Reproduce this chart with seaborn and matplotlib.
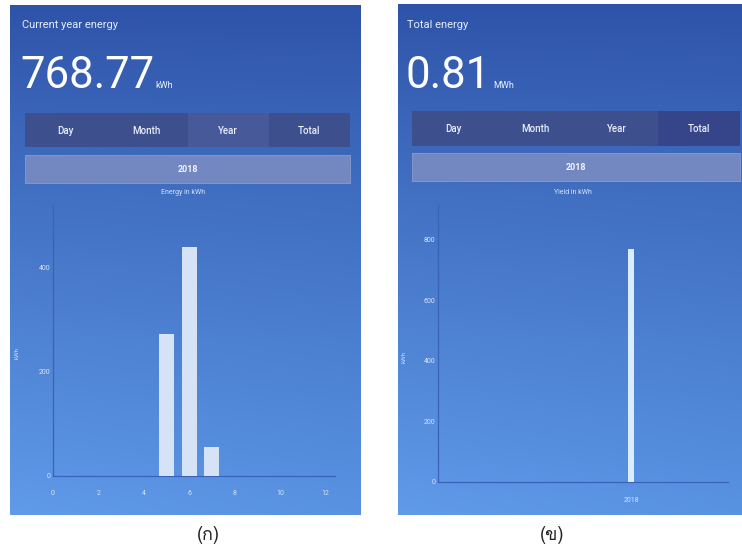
import numpy as np
import matplotlib
matplotlib.use("Agg")
import matplotlib.pyplot as plt
from matplotlib.patches import Rectangle
from matplotlib import font_manager
import seaborn as sns

# ---- data -------------------------------------------------------------
months = [5, 6, 7]
month_energy = [272.45, 439.62, 56.70]          # kWh per month, 2018
month_xticks = [0, 2, 4, 6, 8, 10, 12]
month_yticks = [0, 200, 400]

years = [2018]
year_energy = [768.77]                          # kWh per year
year_xticks = [2018]
year_yticks = [0, 200, 400, 600, 800]

tabs = ["Day", "Month", "Year", "Total"]
headline_left = ("Current year energy", "768.77", "kWh")
headline_right = ("Total energy", "0.81", "MWh")
period_label = "2018"
sub_left = "Energy in kWh"
sub_right = "Yield in kWh"
captions = ["(ก)", "(ข)"]

# ---- fonts ------------------------------------------------------------
sns.set_theme(style="white")
plt.rcParams["font.family"] = ["Roboto", "DejaVu Sans"]


def thai_family():
    try:
        from fontTools.ttLib import TTFont
    except Exception:
        return "DejaVu Sans"
    for f in font_manager.fontManager.ttflist:
        try:
            tt = TTFont(f.fname, fontNumber=0, lazy=True)
            cmap = tt.getBestCmap() or {}
            if 0x0E01 in cmap and 0x0E02 in cmap:
                return f.name
        except Exception:
            continue
    return "DejaVu Sans"


THAI = thai_family()

# ---- figure -----------------------------------------------------------
W, H = 742, 548
fig = plt.figure(figsize=(W / 100, H / 100), dpi=100)
fig.patch.set_facecolor("white")

bg = fig.add_axes([0, 0, 1, 1])
bg.axis("off")


def gradient(nx=60, ny=200):
    top = np.array([0.180, 0.325, 0.660])
    bot = np.array([0.360, 0.590, 0.900])
    t = np.linspace(0, 1, ny)[:, None, None]
    s = np.linspace(0, 1, nx)[None, :, None]
    img = top + (bot - top) * (t ** 0.9)
    img = img + (0.5 - s) * 0.03 * t
    return np.clip(img, 0, 1)


def screen(x0, x1, y0, y1):
    bg.imshow(gradient(), extent=(x0, x1, y1, y0), aspect="auto",
              interpolation="bilinear", zorder=0)


screen(10, 361, 5, 515)
screen(398, 742, 4, 515)


def header(x0, title, value, unit, unit_x):
    bg.text(x0 + 2, 25, title, color="#e4ecfc", fontsize=8,
            va="center", ha="left")
    bg.text(x0, 88, value, color="white", fontsize=31.5,
            va="baseline", ha="left")
    bg.text(unit_x, 88, unit, color="#eef3ff", fontsize=6.5,
            va="baseline", ha="left")


def tab_bar(x0, x1, y0, y1, selected, sel_color):
    seg = (x1 - x0) / len(tabs)
    for i, name in enumerate(tabs):
        c = sel_color if i == selected else "#3e4f8d"
        bg.add_patch(Rectangle((x0 + i * seg, y0), seg, y1 - y0,
                               facecolor=c, edgecolor="none", zorder=2))
        bg.text(x0 + (i + 0.5) * seg, (y0 + y1) / 2 + 1, name,
                color="#e8eefc", fontsize=7, fontweight="medium",
                ha="center", va="center", zorder=3)
    bg.add_patch(Rectangle((x0, y0 + 42), x1 - x0, 28,
                           facecolor="#7388c0", edgecolor="#8a9bcc",
                           lw=0.6, zorder=2))
    bg.text((x0 + x1) / 2, y0 + 57, period_label, color="#f2f5ff",
            fontsize=6.5, fontweight="bold", ha="center", va="center",
            zorder=3)


header(20, *headline_left, unit_x=155)
header(405, *headline_right, unit_x=493)
tab_bar(25, 350, 113, 147, selected=2, sel_color="#48599a")
tab_bar(412, 740, 111, 146, selected=3, sel_color="#36458a")
bg.text(183, 193, sub_left, color="#d7e3fb", fontsize=5,
        ha="center", va="center", zorder=3)
bg.text(573, 193, sub_right, color="#d7e3fb", fontsize=5,
        ha="center", va="center", zorder=3)

for cx, cap in zip([208, 552], captions):
    bg.text(cx, 535, cap, color="#222222", fontsize=13, family=[THAI],
            ha="center", va="center")

bg.set_xlim(0, W)
bg.set_ylim(H, 0)


def style_axes(ax):
    ax.patch.set_alpha(0)
    for side in ("top", "right"):
        ax.spines[side].set_visible(False)
    for side in ("left", "bottom"):
        ax.spines[side].set_color("#3a62b8")
        ax.spines[side].set_linewidth(0.9)
    ax.tick_params(length=0, labelsize=5, colors="#dbe5f8")
    ax.tick_params(axis="y", pad=2)
    ax.grid(False)


def px_axes(x0, x1, y0, y1):
    return fig.add_axes([x0 / W, 1 - y1 / H, (x1 - x0) / W, (y1 - y0) / H])


# ---- monthly chart ----------------------------------------------------
ax1 = px_axes(53, 335, 205, 476)
sns.barplot(x=months, y=month_energy, native_scale=True, width=0.66,
            color="#d6e2f5", saturation=1, linewidth=0, ax=ax1, zorder=3)
ax1.set_xlim(0, 12.42)
ax1.set_ylim(0, 521)
ax1.set_xticks(month_xticks)
ax1.set_xticklabels([str(v) for v in month_xticks])
ax1.set_yticks(month_yticks)
ax1.set_yticklabels([str(v) for v in month_yticks])
style_axes(ax1)
ax1.tick_params(axis="x", pad=10)
ax1.set_xlabel("")
ax1.set_ylabel("kWh", fontsize=4.5, color="#c9d8f3")
ax1.yaxis.set_label_coords(-0.117, 0.454)

# ---- yearly chart -----------------------------------------------------
ax2 = px_axes(438, 728, 205, 482)
sns.barplot(x=years, y=year_energy, native_scale=True, width=0.065,
            color="#d9edff", saturation=1, linewidth=0, ax=ax2, zorder=3)
ax2.set_xlim(2016.0, 2019.0)
ax2.set_ylim(0, 915)
ax2.set_xticks(year_xticks)
ax2.set_xticklabels([str(v) for v in year_xticks])
ax2.set_yticks(year_yticks)
ax2.set_yticklabels([str(v) for v in year_yticks])
style_axes(ax2)
ax2.tick_params(axis="x", pad=11)
ax2.set_xlabel("")
ax2.set_ylabel("kWh", fontsize=4.5, color="#c9d8f3")
ax2.yaxis.set_label_coords(-0.107, 0.451)

fig.savefig("out.png", dpi=100, facecolor="white")
